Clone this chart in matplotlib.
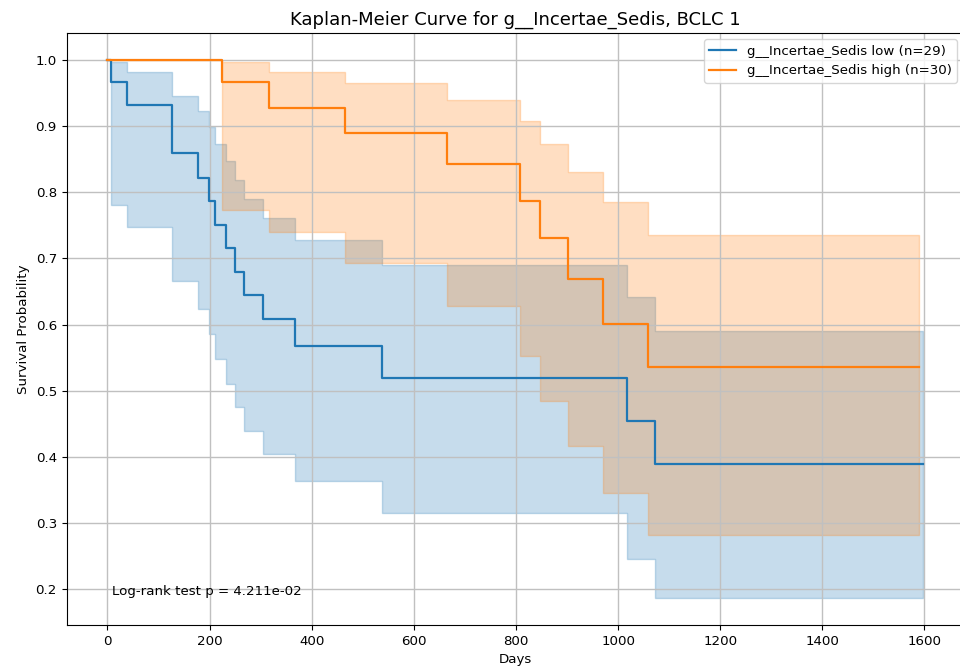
import matplotlib
matplotlib.use("Agg")
import matplotlib.pyplot as plt

# Low group (n=29)
low_times = [0, 7, 38, 126, 178, 199, 211, 232, 249, 267, 305, 368, 538, 1017, 1072, 1597]
low_surv = [1.0, 0.966, 0.931, 0.859, 0.822, 0.787, 0.751, 0.715, 0.679, 0.644, 0.608, 0.568, 0.520, 0.455, 0.390, 0.390]
low_upper = [1.0, 0.997, 0.981, 0.945, 0.923, 0.899, 0.873, 0.847, 0.819, 0.790, 0.761, 0.728, 0.690, 0.642, 0.590, 0.590]
low_lower = [1.0, 0.780, 0.747, 0.665, 0.624, 0.585, 0.548, 0.510, 0.475, 0.439, 0.405, 0.364, 0.316, 0.246, 0.187, 0.187]

# High group (n=30)
high_times = [0, 225, 316, 466, 665, 807, 848, 902, 971, 1058, 1589]
high_surv = [1.0, 0.966, 0.927, 0.889, 0.842, 0.786, 0.730, 0.669, 0.601, 0.536, 0.536]
high_upper = [1.0, 0.996, 0.981, 0.964, 0.939, 0.908, 0.873, 0.831, 0.785, 0.735, 0.735]
high_lower = [1.0, 0.773, 0.739, 0.693, 0.628, 0.552, 0.485, 0.417, 0.345, 0.282, 0.282]

low_label = "g__Incertae_Sedis low (n=29)"
high_label = "g__Incertae_Sedis high (n=30)"
title = "Kaplan-Meier Curve for g__Incertae_Sedis, BCLC 1"
pval_text = "Log-rank test p = 4.211e-02"

fig = plt.figure(figsize=(9.6, 6.69), dpi=100)
ax = fig.add_axes([66.7 / 960, 44 / 669, 897 / 960, 592.3 / 669])

blue = "#1f77b4"
orange = "#ff7f0e"

ax.fill_between(low_times, low_lower, low_upper, step="post", color=blue, alpha=0.25, linewidth=1)
ax.step(low_times, low_surv, where="post", color=blue, linewidth=1.6, label=low_label)
ax.fill_between(high_times, high_lower, high_upper, step="post", color=orange, alpha=0.25, linewidth=1)
ax.step(high_times, high_surv, where="post", color=orange, linewidth=1.6, label=high_label)

ax.set_xticks(range(0, 1601, 200))
ax.tick_params(labelsize=9.6)
ax.grid(True, color="#c0c0c0", linewidth=1.0)
ax.spines["right"].set_visible(False)
ax.set_title(title, fontsize=13)
ax.set_xlabel("Days", fontsize=9.6)
ax.set_ylabel("Survival Probability", fontsize=9.6)
ax.legend(loc="upper right", fontsize=9.6)
ax.text(0.05, 0.05, pval_text, transform=ax.transAxes, fontsize=9.6)

fig.savefig("out.png", dpi=100)
